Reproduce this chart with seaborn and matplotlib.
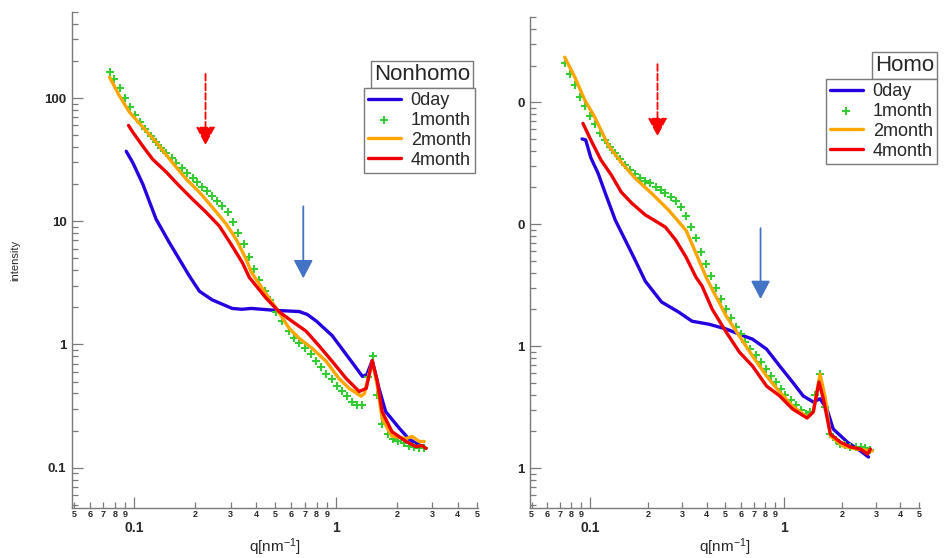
import numpy as np
import pandas as pd
import matplotlib
matplotlib.use("Agg")
import matplotlib.pyplot as plt
from matplotlib.ticker import FixedLocator, FixedFormatter, NullFormatter
import seaborn as sns

sns.set_style("white")
plt.rcParams["font.family"] = ["Liberation Sans", "DejaVu Sans"]
plt.rcParams["mathtext.default"] = "regular"

## datos

labels = ["0day", "1month", "2month", "4month"]
colores = ["#2400E0", "#33CC33", "#FFA500", "#EE0000"]

# Nonhomo
nh_q_0day = [0.091, 0.098, 0.11, 0.128, 0.149, 0.187, 0.21, 0.243, 0.305, 0.34, 0.38, 0.5,
             0.656, 0.72, 0.80, 0.955, 1.16, 1.35, 1.42, 1.51, 1.63, 1.76, 2.05, 2.3, 2.67]
nh_i_0day = [37, 30, 20, 10.4, 6.7, 3.6, 2.7, 2.3, 1.96, 1.93, 1.96, 1.89,
             1.85, 1.75, 1.54, 1.18, 0.77, 0.55, 0.57, 0.74, 0.44, 0.285, 0.21, 0.17, 0.148]

nh_q_1month = [0.0752, 0.0796, 0.0843, 0.0902, 0.0955, 0.101, 0.107, 0.113, 0.121, 0.128,
               0.136, 0.144, 0.153, 0.161, 0.173, 0.183, 0.194, 0.205, 0.217, 0.230,
               0.243, 0.258, 0.273, 0.292, 0.309, 0.327, 0.351, 0.371, 0.393, 0.416,
               0.446, 0.471, 0.505, 0.541, 0.585, 0.620, 0.656, 0.703, 0.752, 0.796,
               0.843, 0.892, 0.955, 1.01, 1.07, 1.13, 1.20, 1.27, 1.35, 1.44,
               1.52, 1.60, 1.69, 1.81, 1.91, 2.03, 2.17, 2.30, 2.43, 2.58, 2.73]
nh_i_1month = [162.6, 142.7, 120.5, 100, 84.5, 72.8, 63.8, 56.0, 49.1, 43.9,
               39.2, 35.7, 32.5, 29.6, 27.0, 24.5, 22.4, 20.7, 18.9, 17.5,
               16.0, 14.5, 13.2, 11.8, 9.8, 8.1, 6.5, 5.1, 4.07, 3.31,
               2.70, 2.28, 1.85, 1.54, 1.28, 1.12, 1.02, 0.93, 0.83, 0.74,
               0.66, 0.58, 0.52, 0.46, 0.42, 0.38, 0.34, 0.32, 0.325, 0.54,
               0.81, 0.39, 0.228, 0.189, 0.172, 0.163, 0.157, 0.151, 0.148, 0.143, 0.143]

nh_q_2month = [0.0752, 0.0843, 0.0944, 0.11, 0.128, 0.154, 0.181, 0.21, 0.243, 0.285,
               0.32, 0.358, 0.38, 0.43, 0.505, 0.585, 0.656, 0.76, 0.892, 1.03,
               1.16, 1.33, 1.38, 1.51, 1.6, 1.69, 1.89, 2.22, 2.38, 2.58, 2.73]
nh_i_2month = [148, 104, 77, 58, 43.9, 30, 21.9, 17.2, 13.0, 9.5,
               7.1, 4.9, 3.85, 2.85, 1.96, 1.35, 1.12, 0.93, 0.73, 0.53,
               0.44, 0.38, 0.40, 0.73, 0.46, 0.25, 0.18, 0.172, 0.179, 0.163, 0.163]

nh_q_4month = [0.0934, 0.098, 0.11, 0.123, 0.144, 0.167, 0.194, 0.227, 0.264, 0.305,
               0.343, 0.371, 0.45, 0.52, 0.605, 0.71, 0.82, 0.955, 1.12, 1.30,
               1.41, 1.51, 1.6, 1.69, 1.89, 2.22, 2.49, 2.67, 2.79]
nh_i_4month = [60, 53, 40.7, 31.9, 25, 19.3, 15.1, 11.8, 9.1, 6.3,
               4.6, 3.5, 2.37, 1.85, 1.54, 1.28, 0.98, 0.73, 0.53, 0.415,
               0.44, 0.74, 0.50, 0.285, 0.196, 0.163, 0.148, 0.151, 0.143]

# Homo
h_q_0day = [0.091, 0.095, 0.101, 0.110, 0.120, 0.135, 0.152, 0.171, 0.193, 0.234,
            0.287, 0.336, 0.412, 0.505, 0.59, 0.69, 0.815, 0.953, 1.11, 1.26,
            1.42, 1.54, 1.67, 1.80, 2.13, 2.49, 2.74]
h_i_0day = [50, 49, 35, 26.2, 17.9, 10.8, 7.4, 5.07, 3.4, 2.3,
            1.9, 1.6, 1.51, 1.38, 1.25, 1.14, 0.945, 0.686, 0.507, 0.39,
            0.348, 0.37, 0.305, 0.209, 0.163, 0.138, 0.123]

h_q_1month = [0.074, 0.0787, 0.0836, 0.0887, 0.094, 0.1, 0.106, 0.113, 0.12, 0.127,
              0.135, 0.143, 0.152, 0.161, 0.171, 0.182, 0.193, 0.205, 0.218, 0.232,
              0.245, 0.261, 0.277, 0.294, 0.313, 0.332, 0.352, 0.374, 0.397, 0.422,
              0.448, 0.475, 0.505, 0.536, 0.569, 0.60, 0.634, 0.673, 0.715, 0.759,
              0.806, 0.856, 0.908, 0.965, 1.02, 1.09, 1.15, 1.23, 1.30, 1.37,
              1.45, 1.54, 1.64, 1.74, 1.85, 1.96, 2.08, 2.21, 2.35, 2.49, 2.64, 2.8]
h_i_1month = [209, 170, 138, 110, 92.7, 76.7, 66, 55.7, 48.9, 42.8,
              38.2, 34.1, 30.5, 27.7, 25.7, 23.8, 22.5, 21.7, 20.1, 19.0,
              17.9, 16.6, 15.4, 13.8, 11.6, 9.45, 7.7, 5.9, 4.7, 3.75,
              2.99, 2.43, 2.01, 1.70, 1.43, 1.25, 1.08, 0.945, 0.844, 0.74,
              0.648, 0.568, 0.507, 0.444, 0.397, 0.361, 0.328, 0.299, 0.277, 0.29,
              0.40, 0.59, 0.316, 0.19, 0.17, 0.157, 0.153, 0.149, 0.148, 0.149, 0.145, 0.14]

h_q_2month = [0.074, 0.0836, 0.094, 0.106, 0.124, 0.145, 0.171, 0.208, 0.255, 0.313,
              0.352, 0.397, 0.427, 0.505, 0.59, 0.69, 0.815, 0.953, 1.11, 1.32,
              1.42, 1.54, 1.64, 1.74, 2.03, 2.40, 2.87]
h_i_2month = [234, 160, 104, 75, 44.5, 32.2, 23.8, 17.9, 13.0, 8.9,
              5.8, 3.68, 2.93, 1.76, 1.21, 0.83, 0.568, 0.42, 0.322, 0.262,
              0.288, 0.59, 0.37, 0.183, 0.151, 0.143, 0.138]

h_q_4month = [0.092, 0.101, 0.114, 0.129, 0.145, 0.164, 0.193, 0.218, 0.245, 0.277,
              0.313, 0.352, 0.379, 0.427, 0.505, 0.59, 0.69, 0.815, 0.953, 1.11,
              1.32, 1.42, 1.52, 1.6, 1.74, 1.96, 2.21, 2.49, 2.71, 2.8]
h_i_4month = [67, 48.9, 33.5, 25.2, 18.3, 14.9, 11.9, 10.6, 9.45, 7.4,
              5.37, 3.68, 3.1, 2.01, 1.30, 0.893, 0.686, 0.47, 0.39, 0.305,
              0.257, 0.288, 0.507, 0.37, 0.19, 0.163, 0.149, 0.143, 0.13, 0.143]

# ticks
x_major = [0.1, 1]
x_major_labels = ["0.1", "1"]
x_minor = [0.05, 0.06, 0.07, 0.08, 0.09, 0.2, 0.3, 0.4, 0.5, 0.6, 0.7, 0.8, 0.9, 2, 3, 4, 5]
x_minor_labels = ["5", "6", "7", "8", "9", "2", "3", "4", "5", "6", "7", "8", "9", "2", "3", "4", "5"]
y_major = [0.1, 1, 10, 100]
nh_y_labels = ["0.1", "1", "10", "100"]
h_y_labels = ["1", "1", "0", "0"]

gris = "#7a7a7a"


def panel(ax, series, y_labels, title, title_xy, leg_xy, arrows):
    for (q, inten), lab, col in zip(series, labels, colores):
        df = pd.DataFrame({"q": q, "intensity": inten})
        if lab == "1month":
            sns.scatterplot(data=df, x="q", y="intensity", marker="+", s=26,
                            linewidth=1.5, color=col, label=lab, ax=ax, zorder=3)
        else:
            sns.lineplot(data=df, x="q", y="intensity", sort=False, estimator=None,
                         color=col, lw=2.4, label=lab, ax=ax, zorder=3)

    ax.set_xscale("log")
    ax.set_yscale("log")
    ax.set_xlim(0.049, 5.05)
    ax.set_ylim(0.047, 500)

    ax.xaxis.set_major_locator(FixedLocator(x_major))
    ax.xaxis.set_major_formatter(FixedFormatter(x_major_labels))
    ax.xaxis.set_minor_locator(FixedLocator(x_minor))
    ax.xaxis.set_minor_formatter(FixedFormatter(x_minor_labels))
    ax.yaxis.set_major_locator(FixedLocator(y_major))
    ax.yaxis.set_major_formatter(FixedFormatter(y_labels))
    ax.yaxis.set_minor_locator(FixedLocator(
        [m * d for d in [0.01, 0.1, 1, 10, 100] for m in range(2, 10)]))
    ax.yaxis.set_minor_formatter(NullFormatter())

    ax.tick_params(which="both", direction="in", color=gris, width=0.9,
                   bottom=True, left=True, top=False, right=False)
    ax.tick_params(which="major", length=8)
    ax.tick_params(which="minor", length=4)
    ax.tick_params(axis="y", which="major", labelsize=9.5, pad=4)
    ax.tick_params(axis="x", which="major", labelsize=10, pad=9)
    ax.tick_params(axis="x", which="minor", labelsize=6.5, pad=1.5)
    for t in ax.get_xticklabels(which="both") + ax.get_yticklabels():
        t.set_fontweight("bold")

    sns.despine(ax=ax)
    for s in ["left", "bottom"]:
        ax.spines[s].set_color(gris)
        ax.spines[s].set_linewidth(1)

    ax.set_xlabel("q[nm$^{-1}$]", fontsize=11)
    ax.xaxis.set_label_coords(0.5, -0.058)
    ax.set_ylabel("")

    # leyenda
    h, l = ax.get_legend_handles_labels()
    leg = ax.legend(h, l, loc="upper right", bbox_to_anchor=leg_xy, borderaxespad=0,
                    fontsize=13, frameon=True, fancybox=False, framealpha=1,
                    edgecolor=gris, handlelength=1.8, handletextpad=0.55,
                    labelspacing=0.15, borderpad=0.25, scatterpoints=1)
    leg.get_frame().set_linewidth(1)
    ax.text(title_xy[0], title_xy[1], title, transform=ax.transAxes, ha="right",
            va="bottom", fontsize=16,
            bbox=dict(boxstyle="square,pad=0.12", fc="white", ec=gris, lw=1))

    # flechas
    for (xq, y0, y1, col, ls) in arrows:
        ax.annotate("", xy=(xq, y1), xytext=(xq, y0),
                    arrowprops=dict(arrowstyle="-|>,head_length=0.8,head_width=0.42",
                                    color=col, lw=1.3, linestyle=ls,
                                    mutation_scale=14, shrinkA=0, shrinkB=0))


fig = plt.figure(figsize=(9.44, 5.58), dpi=100)
ax1 = fig.add_axes([72 / 944, 50 / 558, 406 / 944, 496 / 558])
ax2 = fig.add_axes([530 / 944, 50 / 558, 390 / 944, 491 / 558])

panel(ax1,
      [(nh_q_0day, nh_i_0day), (nh_q_1month, nh_i_1month),
       (nh_q_2month, nh_i_2month), (nh_q_4month, nh_i_4month)],
      nh_y_labels, "Nonhomo", (0.980, 0.853), (0.993, 0.847),
      [(0.225, 157, 41.5, "#FF0000", "--"), (0.687, 13.2, 3.44, "#4472C4", "-")])
panel(ax2,
      [(h_q_0day, h_i_0day), (h_q_1month, h_i_1month),
       (h_q_2month, h_i_2month), (h_q_4month, h_i_4month)],
      h_y_labels, "Homo", (1.036, 0.880), (1.044, 0.874),
      [(0.223, 205, 52.6, "#FF0000", "--"), (0.759, 9.27, 2.43, "#4472C4", "-")])

ax1.set_ylabel("intensity", fontsize=8)
ax1.yaxis.set_label_coords(-0.128, 0.5)

fig.savefig("out.png", dpi=100)
plt.close()
